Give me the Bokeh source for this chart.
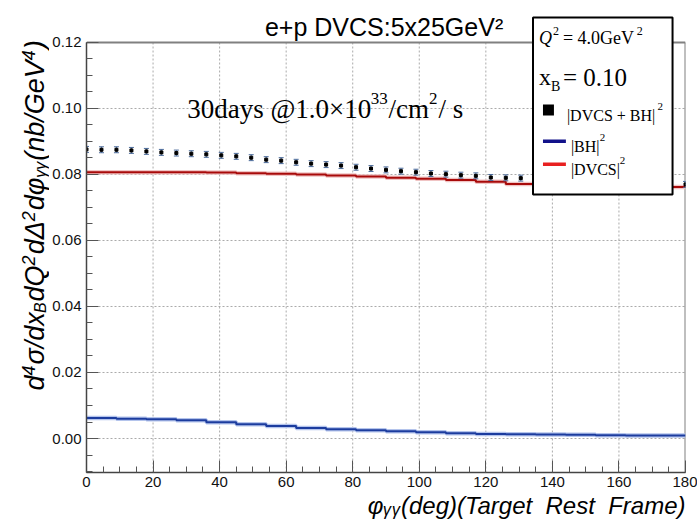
import numpy as np
from bokeh.plotting import figure
from bokeh.layouts import row
from bokeh.models import (Range1d, FixedTicker, PrintfTickFormatter, Label, BoxAnnotation,
                          ColumnDataSource, Title)
from bokeh.embed import file_html
from bokeh.resources import INLINE

# ---------------- data ----------------
PHI = [0.0, 4.5, 9.0, 13.5, 18.0, 22.5, 27.0, 31.5, 36.0, 40.5,
       45.0, 49.5, 54.0, 58.5, 63.0, 67.5, 72.0, 76.5, 81.0, 85.5,
       90.0, 94.5, 99.0, 103.5, 108.0, 112.5, 117.0, 121.5, 126.0, 130.5,
       180.0]
SIGMA_TOT = [0.0876, 0.0875, 0.0875, 0.0873, 0.0870, 0.0867, 0.0865, 0.0863, 0.0861, 0.0858,
             0.0855, 0.0851, 0.0845, 0.0842, 0.0837, 0.0833, 0.0830, 0.0827, 0.0822, 0.0818,
             0.0814, 0.0810, 0.0807, 0.0803, 0.0801, 0.0798, 0.0796, 0.0791, 0.0790, 0.0789,
             0.0770]
SIGMA_ERR = [0.0009, 0.0009, 0.0009, 0.0009, 0.0009, 0.0009, 0.0009, 0.0009, 0.0009, 0.0009,
             0.0009, 0.0009, 0.0009, 0.0009, 0.0009, 0.0009, 0.0009, 0.0009, 0.0009, 0.0009,
             0.0009, 0.0009, 0.0009, 0.0009, 0.0009, 0.0009, 0.0009, 0.0009, 0.0009, 0.0009,
             0.0009]

BIN_EDGES = [0, 9, 18, 27, 36, 45, 54, 63, 72, 81, 90, 99, 108, 117, 126, 135, 144, 153, 162, 171, 180]
BH = [0.0062, 0.0060, 0.0058, 0.0055, 0.0049, 0.0043, 0.0038, 0.0032, 0.0028, 0.0025,
      0.0022, 0.0019, 0.0016, 0.0014, 0.0013, 0.0012, 0.0011, 0.0010, 0.0009, 0.0009]
DVCS = [0.0807, 0.0807, 0.0807, 0.0807, 0.0806, 0.0804, 0.0802, 0.0800, 0.0797, 0.0794,
        0.0790, 0.0787, 0.0783, 0.0778, 0.0771, 0.0768, 0.0766, 0.0764, 0.0763, 0.0762]

X_TICKS = [0, 20, 40, 60, 80, 100, 120, 140, 160, 180]
Y_TICKS = [0.00, 0.02, 0.04, 0.06, 0.08, 0.10, 0.12]
Y_MIN = -0.010303          # bottom of the axes box
Y_TOP = 0.132727           # frame extends above 0.12 so texts above the axes box are drawn

# ---------------- geometry ----------------
YLAB_W = 49
MAIN_W = 648
MAIN_H = 523
FRAME_BOTTOM = 472

# ---------------- main figure ----------------
p = figure(width=MAIN_W, height=MAIN_H, output_backend="svg", toolbar_location=None,
           x_range=Range1d(0, 180), y_range=Range1d(Y_MIN, Y_TOP),
           min_border_left=35, min_border_right=12, min_border_top=0,
           min_border_bottom=MAIN_H - FRAME_BOTTOM)
p.background_fill_color = "white"
p.border_fill_color = "white"
p.outline_line_color = None
p.xgrid.grid_line_color = None
p.ygrid.grid_line_color = None

p.xaxis.ticker = FixedTicker(ticks=X_TICKS, minor_ticks=list(range(0, 181, 5)))
p.yaxis.ticker = FixedTicker(ticks=Y_TICKS, minor_ticks=[round(-0.010 + 0.005 * i, 3) for i in range(27)])
p.xaxis.formatter = PrintfTickFormatter(format="%d")
p.yaxis.formatter = PrintfTickFormatter(format="%.2f")
p.yaxis.bounds = (Y_MIN, Y_TICKS[-1])
for ax in (p.xaxis, p.yaxis):
    ax.major_tick_in = 12
    ax.major_tick_out = 0
    ax.minor_tick_in = 6
    ax.minor_tick_out = 0
    ax.major_tick_line_color = "#555555"
    ax.minor_tick_line_color = "#555555"
    ax.axis_line_color = "#444444"
    ax.axis_line_width = 1.5
    ax.major_label_text_font = "Liberation Sans"
    ax.major_label_text_font_size = "15px"
    ax.major_label_text_color = "#111111"
p.xaxis.major_label_standoff = 4
p.yaxis.major_label_standoff = 5

# x-axis title, right-aligned under the axis
p.add_layout(Title(text="φᵧᵧ(deg)(Target\u00a0\u00a0Rest\u00a0\u00a0Frame)", align="right", offset=0,
                   standoff=0, text_font="Liberation Sans", text_font_size="24px",
                   text_font_style="italic", text_color="black"), "below")

# dotted grid, restricted to the axes box
p.segment(x0=X_TICKS[1:-1], y0=[Y_MIN] * 8, x1=X_TICKS[1:-1], y1=[Y_TICKS[-1]] * 8,
          line_color="#aaaaaa", line_dash="2 2", line_width=1)
p.segment(x0=[0] * 6, y0=Y_TICKS[:-1], x1=[180] * 6, y1=Y_TICKS[:-1],
          line_color="#aaaaaa", line_dash="2 2", line_width=1)
# frame top and right edges
p.segment(x0=[0, 180], y0=[Y_TICKS[-1], Y_MIN], x1=[180, 180], y1=[Y_TICKS[-1], Y_TICKS[-1]],
          line_color="#808080", line_width=2)

# step curves (histogram style)
bh_y = BH + [BH[-1]]
dv_y = DVCS + [DVCS[-1]]
p.step(BIN_EDGES, bh_y, mode="after", line_color="#b4c4ec", line_width=4.5)
p.step(BIN_EDGES, bh_y, mode="after", line_color="#1c3c9e", line_width=2)
p.step(BIN_EDGES, dv_y, mode="after", line_color="#f0c4c4", line_width=4.5)
p.step(BIN_EDGES, dv_y, mode="after", line_color="#a80a0a", line_width=2)

# data points with error bars
lo = [v - e for v, e in zip(SIGMA_TOT, SIGMA_ERR)]
hi = [v + e for v, e in zip(SIGMA_TOT, SIGMA_ERR)]
src = ColumnDataSource(dict(x=PHI, y=SIGMA_TOT, lo=lo, hi=hi))
EB = "#4a6a9a"
p.segment(x0="x", y0="lo", x1="x", y1="hi", source=src, line_color=EB, line_width=1)
p.scatter(x="x", y="lo", source=src, marker="dash", size=5, line_color=EB, line_width=1)
p.scatter(x="x", y="hi", source=src, marker="dash", size=5, line_color=EB, line_width=1)
p.scatter(x="x", y="y", source=src, marker="square", size=3, fill_color="black", line_color="black")

# ---------------- text helpers ----------------
def px2x(X):
    return (X - 84.0) * 180.0 / 601.0

def px2y(Y):
    return (438.0 - Y) / 3300.0

def label(fig, x, y, s, size, font="Liberation Sans", style="normal", angle=0.0, baseline="alphabetic"):
    fig.add_layout(Label(x=x, y=y, text=s, text_font=font, text_font_size=f"{size}px",
                         text_font_style=style, angle=angle, text_align="left",
                         text_baseline=baseline, text_color="black"))

def text(X, Y, s, size, **kw):
    label(p, px2x(X), px2y(Y), s, size, **kw)

SANS = {'d': 0.556, '4': 0.556, '2': 0.556, 'σ': 0.57, '/': 0.278, 'x': 0.5, 'B': 0.667,
        'Q': 0.778, 'Δ': 0.668, 'φ': 0.65, 'γ': 0.5, '(': 0.333, ')': 0.333, 'n': 0.556,
        'b': 0.556, 'G': 0.778, 'e': 0.556, 'V': 0.667}
SERIF = {'3': 0.5, '0': 0.5, 'd': 0.5, 'a': 0.444, 'y': 0.5, 's': 0.389, ' ': 0.25, '@': 0.921,
         '1': 0.5, '.': 0.25, '×': 0.564, '/': 0.278, 'c': 0.444, 'm': 0.778, '2': 0.5}

def wid(s, size, table):
    return sum(table.get(c, 0.55) for c in s) * size

# title (inside the extended frame, above the axes box)
text(263, 27, "e+p DVCS:5x25GeV²", 25)

# luminosity text with raised exponents
lum = [("30days @1.0×10", 0), ("33", 1), ("/cm", 0), ("2", 1), (" / s", 0)]
xp = 185.0
for s, kind in lum:
    size = 27 if kind == 0 else 17
    text(xp, 109 if kind == 0 else 98, s, size, font="Liberation Serif")
    xp += wid(s, size, SERIF) + (1 if kind else 0)

# legend box
p.add_layout(BoxAnnotation(left=px2x(532), right=px2x(672), top=px2y(17), bottom=px2y(194),
                           fill_color="white", fill_alpha=1.0, line_color="black", line_width=2,
                           line_alpha=1.0))
text(538, 38, "Q", 18, font="Liberation Serif", style="italic")
text(552, 31, "2", 12, font="Liberation Serif")
text(562, 38, "= 4.0GeV", 18, font="Liberation Serif")
text(636, 31, "2", 12, font="Liberation Serif")
text(538, 77, "x", 24, font="Liberation Serif")
text(550, 86, "B", 14, font="Liberation Serif")
text(562, 77, "= 0.10", 25, font="Liberation Serif")
p.add_layout(BoxAnnotation(left=px2x(542), right=px2x(553), top=px2y(104), bottom=px2y(115),
                           fill_color="black", fill_alpha=1.0, line_alpha=0))
text(566, 115, "|DVCS + BH|", 16, font="Liberation Serif")
text(657, 106, "2", 11, font="Liberation Serif")
p.add_layout(BoxAnnotation(left=px2x(542), right=px2x(565), top=px2y(139), bottom=px2y(142.5),
                           fill_color="#12128a", fill_alpha=1.0, line_alpha=0))
text(570, 146, "|BH|", 16, font="Liberation Serif")
text(599, 137, "2", 11, font="Liberation Serif")
p.add_layout(BoxAnnotation(left=px2x(542), right=px2x(565), top=px2y(162), bottom=px2y(165.5),
                           fill_color="#e82020", fill_alpha=1.0, line_alpha=0))
text(570, 169, "|DVCS|", 16, font="Liberation Serif")
text(619, 160, "2", 11, font="Liberation Serif")

# ---------------- y-axis title figure (page-pixel coordinates) ----------------
# its frame is aligned with the main frame (page y 0..472)
yf = figure(width=YLAB_W, height=MAIN_H, output_backend="svg", toolbar_location=None,
            x_range=Range1d(0, YLAB_W), y_range=Range1d(FRAME_BOTTOM, 0),
            x_axis_type=None, y_axis_type=None,
            min_border_left=0, min_border_right=0, min_border_top=0, min_border_bottom=0)
yf.outline_line_color = None
yf.border_fill_color = "white"
yf.background_fill_color = "white"
MAIN, SUP, SUB = 27, 18, 16
DESC = 0.212   # descent of Liberation Sans (em), rotated texts are anchored at their bottom
ypieces = [("d", 0), ("4", 1), ("σ/dx", 0), ("B", -1), ("dQ", 0), ("2", 1), ("dΔ", 0), ("2", 1),
           ("dφ", 0), ("γγ", -1), ("(nb/GeV", 0), ("4", 1), (")", 0)]
ypos = 390.0
for s, kind in ypieces:
    size = {0: MAIN, 1: SUP, -1: SUB}[kind]
    bx = {0: 44, 1: 31, -1: 45.5}[kind] + DESC * size
    label(yf, bx, ypos, s, size, style="italic", angle=np.pi / 2, baseline="bottom")
    ypos -= wid(s, size, SANS) + (1 if kind != 0 else 0)

layout = row(yf, p, spacing=0)
open("out.html", "w").write(file_html(layout, INLINE))
